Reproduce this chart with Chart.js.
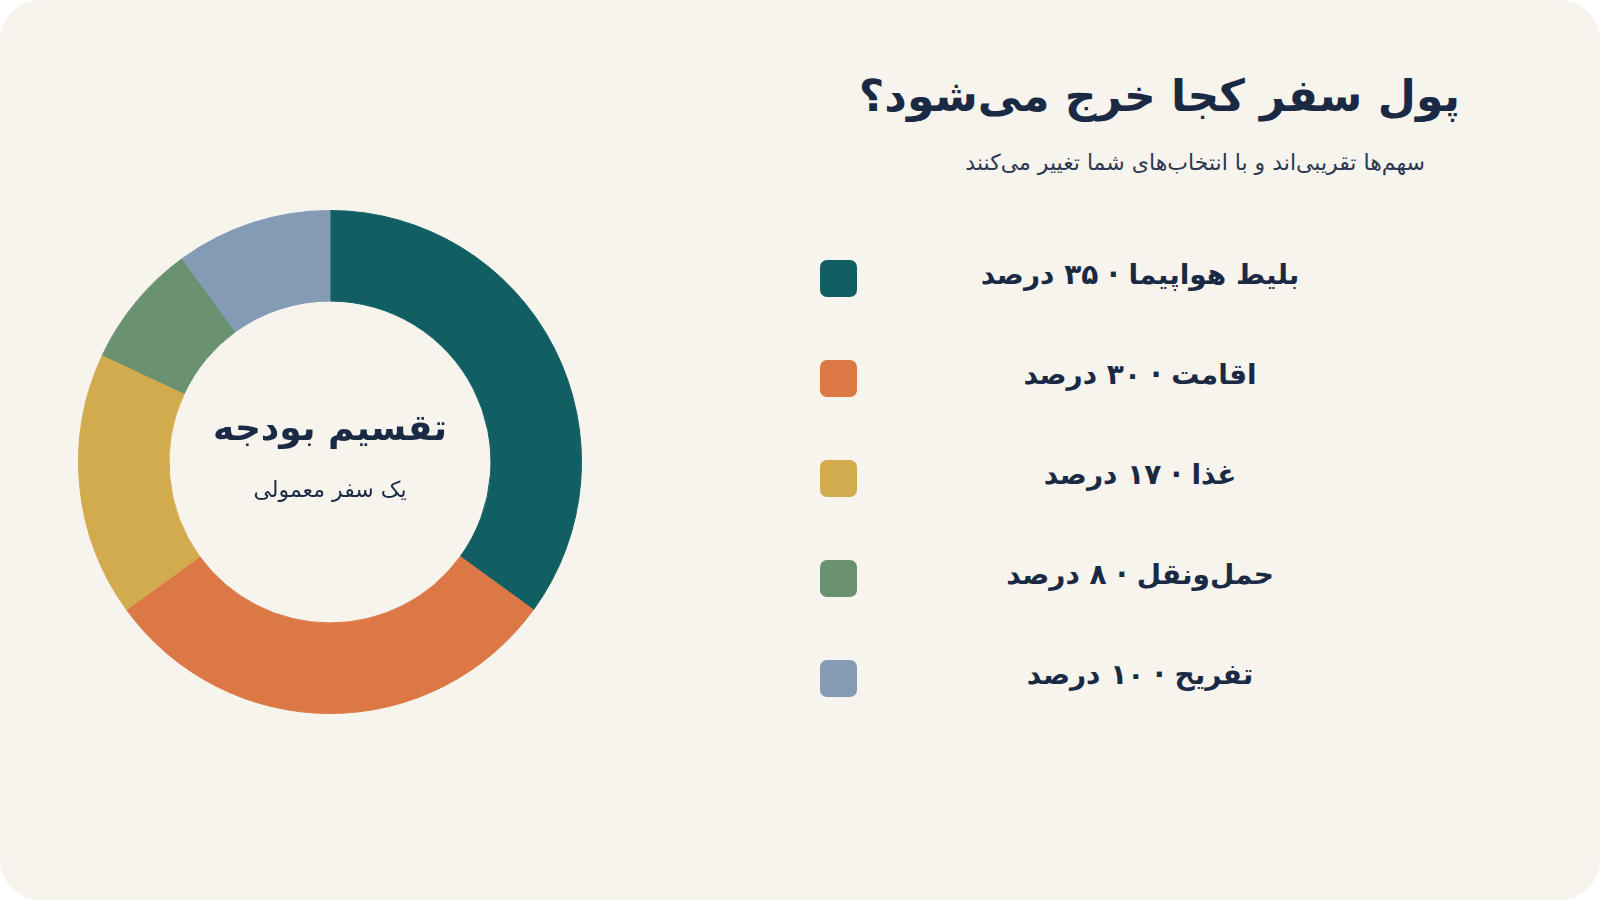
<!DOCTYPE html>
<html lang="fa" dir="rtl">
<head>
<meta charset="utf-8">
<script src="https://cdn.jsdelivr.net/npm/chart.js@4.4.1/dist/chart.umd.min.js"></script>
<style>
  html, body { margin: 0; padding: 0; background: #ffffff; }
  body { width: 1600px; height: 900px; font-family: "DejaVu Sans", "Noto Sans", sans-serif; color: #1b2a44; }
  .card { position: absolute; left: 0; top: 0; width: 1600px; height: 900px; background: #f7f4ee; border-radius: 40px; overflow: hidden; }
  .chart-box { position: absolute; left: 70px; top: 202px; width: 520px; height: 520px; }
  .center { position: absolute; left: 70px; top: 202px; width: 520px; height: 520px; pointer-events: none; text-align: center; }
  .center .t1 { position: absolute; width: 100%; top: 205px; font-size: 36px; font-weight: bold; }
  .center .t2 { position: absolute; width: 100%; top: 275px; font-size: 22px; }
  h1 { position: absolute; right: 140px; top: 70px; margin: 0; font-size: 44px; font-weight: bold; }
  .sub { position: absolute; right: 175px; top: 150px; font-size: 22px; color: #2b3850; }
  .legend { position: absolute; left: 820px; top: 258px; width: 560px; }
  .row { position: relative; height: 100px; }
  .sw { position: absolute; left: 0; top: 2px; width: 37px; height: 37px; border-radius: 7px; }
  .lbl { position: absolute; left: 80px; right: 0; top: 0; text-align: center; font-size: 28px; font-weight: bold; direction: rtl; }
</style>
</head>
<body>
<div class="card">
  <div class="chart-box"><canvas id="budgetChart"></canvas></div>
  <div class="center"><div class="t1">تقسیم بودجه</div><div class="t2">یک سفر معمولی</div></div>
  <h1>پول سفر کجا خرج می‌شود؟</h1>
  <div class="sub">سهم‌ها تقریبی‌اند و با انتخاب‌های شما تغییر می‌کنند</div>
  <div class="legend" id="legend"></div>
</div>
<script>
const categories = ['بلیط هواپیما', 'اقامت', 'غذا', 'حمل‌ونقل', 'تفریح'];
const shares = [35, 30, 17, 8, 10];
const shareLabels = ['۳۵', '۳۰', '۱۷', '۸', '۱۰'];
const colors = ['#115e63', '#dc7845', '#d3ab4f', '#6b9270', '#839bb4'];

const legend = document.getElementById('legend');
categories.forEach((name, i) => {
  const row = document.createElement('div');
  row.className = 'row';
  row.innerHTML = `<div class="sw" style="background:${colors[i]}"></div>
    <div class="lbl">${name} · ${shareLabels[i]} درصد</div>`;
  legend.appendChild(row);
});

new Chart(document.getElementById('budgetChart').getContext('2d'), {
  type: 'doughnut',
  data: {
    labels: categories,
    datasets: [{ data: shares, backgroundColor: colors, borderWidth: 1, borderColor: colors }],
  },
  options: {
    responsive: true,
    maintainAspectRatio: true,
    animation: false,
    cutout: '64%',
    layout: { padding: 8 },
    plugins: { legend: { display: false }, tooltip: { enabled: false } },
  },
});
</script>
</body>
</html>
